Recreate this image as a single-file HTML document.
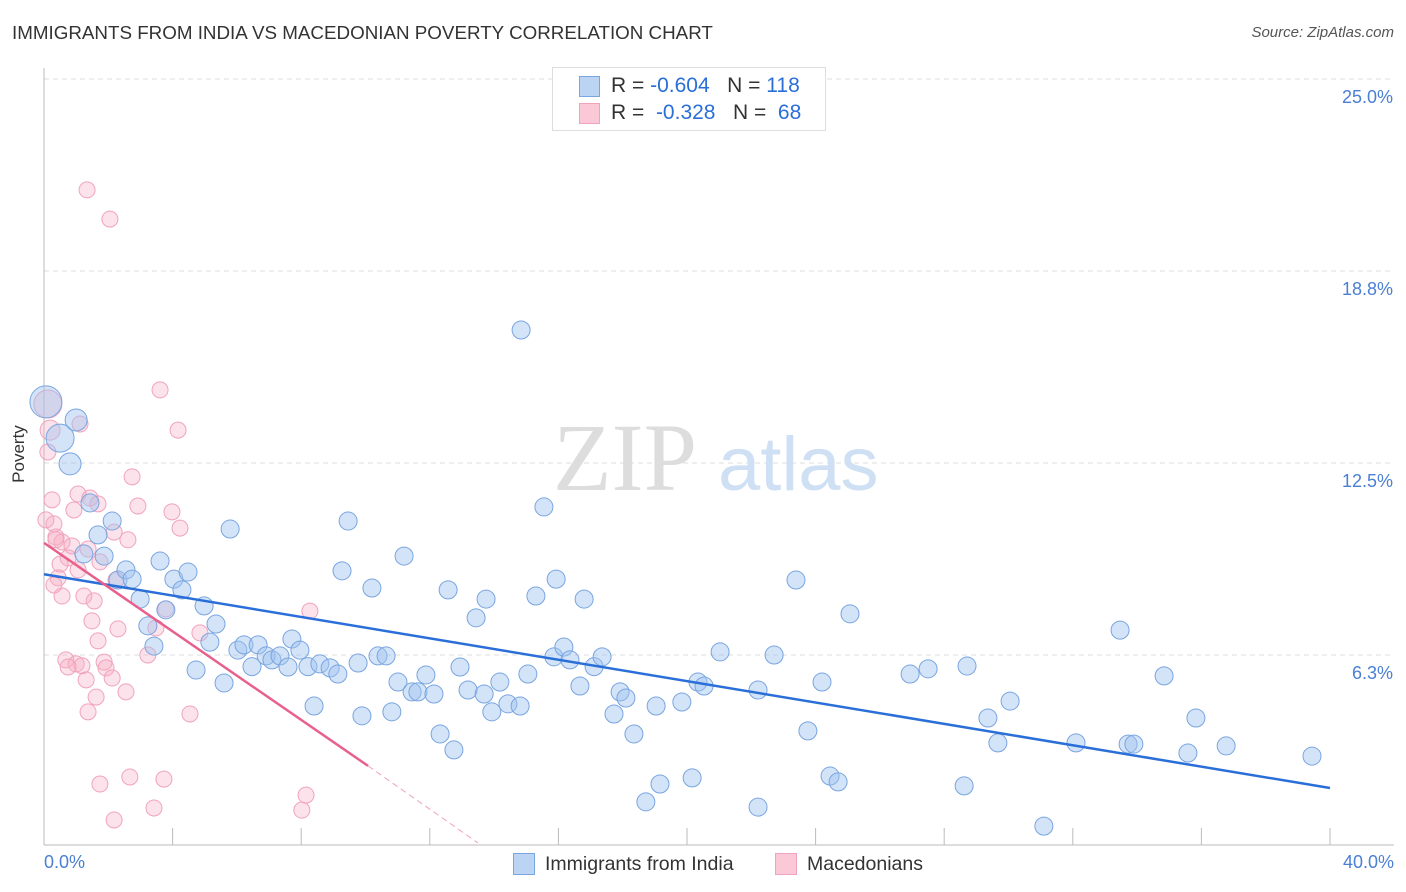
<!DOCTYPE html>
<html><head><meta charset="utf-8">
<style>
body{margin:0;background:#fff;font-family:"Liberation Sans",sans-serif;}
#wrap{position:relative;width:1406px;height:892px;overflow:hidden;}
.t{position:absolute;white-space:nowrap;}
</style></head>
<body>
<div id="wrap">
<div class="t" style="left:12px;top:22px;font-size:18.8px;color:#333;">IMMIGRANTS FROM INDIA VS MACEDONIAN POVERTY CORRELATION CHART</div>
<div class="t" style="right:12px;top:24px;font-size:15px;color:#555;font-style:italic;">Source: ZipAtlas.com</div>
<svg id="plot" width="1406" height="892" style="position:absolute;left:0;top:0;"></svg>
</div>
<script>
const xTicks=[4,8,12,16,20,24,28,32,36,40];
const yTicks=[25,18.75,12.5,6.25];
const yTickLabels=["25.0%","18.8%","12.5%","6.3%"];
const blueX=[0.06,0.5,1.0,0.81,1.43,2.12,1.68,1.24,1.87,2.3,2.55,2.74,2.99,3.61,3.23,3.42,3.79,4.04,4.29,4.48,4.73,4.98,5.16,5.35,5.6,5.79,6.03,6.22,6.47,6.66,6.91,7.09,7.34,7.59,7.71,7.96,8.21,8.4,8.58,8.9,9.14,9.27,9.46,9.77,9.89,10.2,10.39,10.64,10.82,11.01,11.2,11.45,11.63,11.88,12.13,12.32,12.57,12.75,12.94,13.19,13.44,13.69,13.75,13.93,14.18,14.43,14.81,14.84,15.05,15.3,15.55,15.86,15.93,16.17,16.36,16.67,16.8,17.11,17.36,17.73,17.92,18.1,18.35,18.72,19.04,19.16,19.84,20.16,20.34,20.53,21.03,22.21,22.21,22.71,23.39,23.76,24.2,24.45,24.7,25.07,26.94,27.5,28.62,28.71,29.36,29.67,30.05,31.1,32.1,33.47,33.72,33.9,34.84,35.58,35.83,36.77,39.44];
const blueY=[14.49,13.31,13.9,12.47,11.2,10.61,10.16,9.54,9.47,8.69,9.02,8.72,8.07,9.31,7.2,6.54,7.72,8.72,8.37,8.95,5.76,7.85,6.67,7.26,5.34,10.35,6.41,6.58,5.87,6.58,6.22,6.09,6.22,5.86,6.77,6.41,5.87,4.59,5.96,5.83,5.63,8.99,10.61,5.99,4.27,8.43,6.22,6.22,4.4,5.37,9.47,5.05,5.05,5.6,4.98,3.68,8.37,3.16,5.86,5.11,7.46,4.98,8.07,4.4,5.37,4.66,4.59,16.83,5.63,8.17,11.07,6.19,8.72,6.51,6.09,5.24,8.07,5.87,6.19,4.33,5.05,4.85,3.68,1.47,4.59,2.05,4.72,2.25,5.37,5.24,6.35,1.3,5.11,6.25,8.69,3.78,5.37,2.31,2.12,7.59,5.63,5.8,1.99,5.89,4.2,3.39,4.75,0.68,3.39,7.06,3.35,3.35,5.57,3.06,4.2,3.29,2.96];
const blueR=[16,14,11,11];
const pinkX=[1.34,2.05,0.12,0.19,0.12,1.12,3.61,4.17,2.74,0.25,1.06,1.43,1.68,2.92,3.98,4.23,0.31,0.93,0.37,0.56,0.87,0.75,1.37,2.18,2.61,1.74,0.5,1.06,0.44,0.31,0.56,1.24,1.56,2.24,3.79,3.48,1.49,1.68,2.3,4.85,3.23,8.27,0.68,1.0,1.18,0.75,1.87,1.93,1.31,2.12,1.62,2.55,1.37,4.54,1.74,2.67,3.73,2.18,3.42,8.15,8.02,0.37,0.06];
const pinkY=[21.39,20.44,14.42,13.57,12.86,13.77,14.88,13.57,12.05,11.3,11.49,11.36,11.17,11.1,10.91,10.38,10.52,10.97,10.09,9.93,9.8,9.41,9.7,10.25,10.0,9.28,9.21,9.02,8.76,8.53,8.17,8.17,8.01,8.69,7.75,7.13,7.36,6.71,7.1,6.97,6.25,7.68,6.09,5.96,5.9,5.86,6.02,5.83,5.44,5.5,4.88,5.05,4.4,4.33,2.05,2.28,2.21,0.88,1.27,1.69,1.2,10.0,10.65];
const pinkR=[8,8,14,10];
const blueTrend=[[0,8.88],[40,1.92]];
const pinkTrend=[[0,9.9],[10.08,2.64]];
const pinkDash=[[10.08,2.64],[13.5,0.13]];

const NS="http://www.w3.org/2000/svg";
const svg=document.getElementById('plot');
const X=v=>44+v/40*1286;
const Y=v=>79+(25-v)*30.72;
function mk(t,a){const e=document.createElementNS(NS,t);for(const k in a)e.setAttribute(k,a[k]);svg.appendChild(e);return e;}

yTicks.forEach((v,i)=>{
 const g=mk('line',{x1:44,x2:1394,y1:Y(v),y2:Y(v),stroke:'#ddd','stroke-dasharray':'5,4'});
 
 
 const t=mk('text',{x:1393,y:Y(v)+24,'text-anchor':'end','font-size':18,fill:'#4a7fd4','font-family':'Liberation Sans, sans-serif'});
 t.textContent=yTickLabels[i];
 
 
});
const ax=mk('line',{x1:44,x2:1394,y1:845,y2:845,stroke:'#bbb'});


const ay=mk('line',{x1:44,x2:44,y1:68,y2:845,stroke:'#bbb'});


xTicks.forEach(v=>{
 const tk=mk('line',{x1:X(v),x2:X(v),y1:828,y2:845,stroke:'#bbb'});
 
 
});
const w1=mk('text',{x:553,y:490,'font-size':96,fill:'#ddd','font-family':'Liberation Serif, serif'});w1.textContent='ZIP';


const w2=mk('text',{x:718,y:490,'font-size':76,fill:'#cfe0f4','font-family':'Liberation Sans, sans-serif'});w2.textContent='atlas';



pinkX.forEach((x,i)=>{
 const c=mk('circle',{cx:X(x),cy:Y(pinkY[i]),r:pinkR[i]||8,fill:'rgba(246,172,196,0.35)',stroke:'#f1a3bd','stroke-width':1});
 
 
});
blueX.forEach((x,i)=>{
 const c=mk('circle',{cx:X(x),cy:Y(blueY[i]),r:blueR[i]||9,fill:'rgba(160,196,240,0.45)',stroke:'#79a5e0','stroke-width':1});
 
 
});
const bl=mk('line',{x1:X(blueTrend[0][0]),y1:Y(blueTrend[0][1]),x2:X(blueTrend[1][0]),y2:Y(blueTrend[1][1]),stroke:'#2a6fd8','stroke-width':2.5});


const pl=mk('line',{x1:X(pinkTrend[0][0]),y1:Y(pinkTrend[0][1]),x2:X(pinkTrend[1][0]),y2:Y(pinkTrend[1][1]),stroke:'#e8608c','stroke-width':2.5});


const pd=mk('line',{x1:X(pinkDash[0][0]),y1:Y(pinkDash[0][1]),x2:X(pinkDash[1][0]),y2:Y(pinkDash[1][1]),stroke:'#f0a0bb','stroke-width':1,'stroke-dasharray':'6,4'});


</script>
<div class="t" style="left:-10px;top:444px;font-size:17px;color:#333;transform:rotate(-90deg);">Poverty</div>
<div class="t" style="left:44px;top:852px;font-size:18px;color:#4a7fd4;">0.0%</div>
<div class="t" style="right:12px;top:852px;font-size:18px;color:#4a7fd4;">40.0%</div>
<div style="position:absolute;left:552px;top:67px;width:272px;height:62px;border:1px solid #ddd;background:#fff;">
 <div style="position:absolute;left:26px;top:8px;width:19px;height:19px;background:#bcd4f4;border:1px solid #79a5e0;"></div>
 <div class="t" style="left:58px;top:6px;font-size:21px;color:#333;">R = <span style="color:#2a6fd8">-0.604</span>&nbsp;&nbsp;&nbsp;N = <span style="color:#2a6fd8">118</span></div>
 <div style="position:absolute;left:26px;top:35px;width:19px;height:19px;background:#fbc8d8;border:1px solid #f1a3bd;"></div>
 <div class="t" style="left:58px;top:33px;font-size:21px;color:#333;">R = &nbsp;<span style="color:#2a6fd8">-0.328</span>&nbsp;&nbsp;&nbsp;N = &nbsp;<span style="color:#2a6fd8">68</span></div>
</div>
<div style="position:absolute;left:513px;top:853px;">
 <div style="position:absolute;left:0;top:0;width:20px;height:20px;background:#bcd4f4;border:1px solid #79a5e0;"></div>
 <div class="t" style="left:32px;top:0;font-size:19.5px;color:#333;">Immigrants from India</div>
</div>
<div style="position:absolute;left:775px;top:853px;">
 <div style="position:absolute;left:0;top:0;width:20px;height:20px;background:#fbc8d8;border:1px solid #f1a3bd;"></div>
 <div class="t" style="left:32px;top:0;font-size:19.5px;color:#333;">Macedonians</div>
</div>
</body></html>
